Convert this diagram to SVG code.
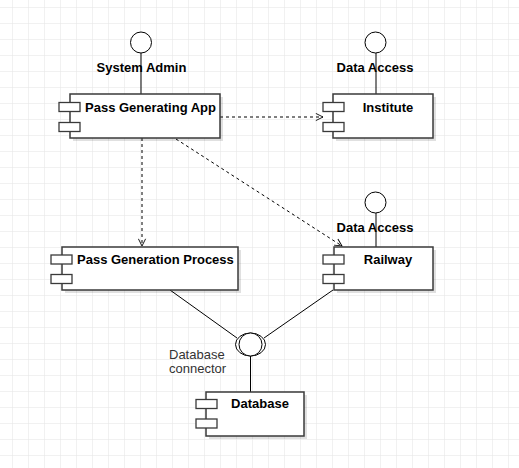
<svg xmlns="http://www.w3.org/2000/svg" width="519" height="468" viewBox="0 0 519 468">
<defs>
<pattern id="grid" x="12" y="7" width="16" height="16" patternUnits="userSpaceOnUse">
<path d="M0,0 H16 M0,0 V16" fill="none" stroke="#e3e3e3" stroke-width="1"/>
</pattern>
<marker id="open" viewBox="0 0 10 10" refX="9" refY="5" markerWidth="9" markerHeight="9" orient="auto" markerUnits="userSpaceOnUse">
<path d="M1,1 L9,5 L1,9" fill="none" stroke="#000" stroke-width="1"/>
</marker>
</defs>
<style>
.box{fill:#fff;stroke:#3a3a3a;stroke-width:1.5}
.sh{fill:#000;opacity:0.12}
.port{fill:#fff;stroke:#3a3a3a;stroke-width:1.3}
.ball{fill:#fff;stroke:#000;stroke-width:1}
.ln{fill:none;stroke:#000;stroke-width:1}
.dash{fill:none;stroke:#000;stroke-width:1;stroke-dasharray:3 3}
.lbl{font-family:"Liberation Sans",Arial,sans-serif;font-size:13px;font-weight:bold;fill:#000}
.txt{font-family:"Liberation Sans",Arial,sans-serif;font-size:13px;fill:#333}
</style>
<rect x="0" y="0" width="519" height="468" fill="#fff"/>
<rect x="0" y="0" width="519" height="468" fill="url(#grid)"/>

<g id="connectors">
<line class="dash" x1="142" y1="138" x2="142" y2="246" marker-end="url(#open)"/>
<line class="dash" x1="220" y1="117" x2="323" y2="117" marker-end="url(#open)"/>
<line class="dash" x1="176" y1="139" x2="342" y2="246" marker-end="url(#open)"/>
<line class="ln" x1="170" y1="290" x2="237" y2="338"/>
<line class="ln" x1="333" y1="290" x2="264" y2="338"/>
<line class="ln" x1="250.5" y1="356" x2="250.5" y2="392"/>
</g>

<g id="pass-generating-app">
<line class="ln" x1="141" y1="53" x2="141" y2="94"/>
<circle class="ball" cx="141" cy="42.5" r="10.5"/>
<text class="lbl" x="141.5" y="72" text-anchor="middle">System Admin</text>
<rect class="sh" x="73" y="97" width="150" height="44"/>
<rect class="box" x="70" y="94" width="150" height="44"/>
<rect class="port" x="59" y="102.5" width="21" height="9"/>
<rect class="port" x="59" y="122.5" width="21" height="9"/>
<text class="lbl" x="85" y="112">Pass Generating App</text>
</g>

<g id="institute">
<line class="ln" x1="376" y1="53" x2="376" y2="94"/>
<circle class="ball" cx="375.5" cy="42.5" r="10.5"/>
<text class="lbl" x="375" y="72" text-anchor="middle">Data Access</text>
<rect class="sh" x="336" y="97" width="100" height="44"/>
<rect class="box" x="333" y="94" width="100" height="44"/>
<rect class="port" x="323" y="102.5" width="21" height="9"/>
<rect class="port" x="323" y="122.5" width="21" height="9"/>
<text class="lbl" x="388" y="112" text-anchor="middle">Institute</text>
</g>

<g id="pass-generation-process">
<rect class="sh" x="65" y="250" width="176" height="43"/>
<rect class="box" x="62" y="247" width="176" height="43"/>
<rect class="port" x="51" y="255" width="21" height="9"/>
<rect class="port" x="51" y="274.5" width="21" height="9"/>
<text class="lbl" x="77" y="263.5">Pass Generation Process</text>
</g>

<g id="railway">
<line class="ln" x1="376" y1="213" x2="376" y2="247"/>
<circle class="ball" cx="375.5" cy="202.5" r="10.5"/>
<text class="lbl" x="375" y="231.5" text-anchor="middle">Data Access</text>
<rect class="sh" x="337" y="250" width="99" height="43"/>
<rect class="box" x="334" y="247" width="99" height="43"/>
<rect class="port" x="323" y="255" width="21" height="9"/>
<rect class="port" x="323" y="274.5" width="21" height="9"/>
<text class="lbl" x="388" y="263.5" text-anchor="middle">Railway</text>
</g>

<g id="database-connector">
<path class="ln" d="M250.5,333 A15 11.5 0 0 0 250.5,356"/>
<path class="ln" d="M250.5,333 A15 11.5 0 0 1 250.5,356"/>
<circle class="ball" cx="250.5" cy="344.5" r="11.5"/>
<text class="txt" x="169" y="359">Database</text>
<text class="txt" x="169" y="373">connector</text>
</g>

<g id="database">
<rect class="sh" x="209" y="395" width="98" height="44"/>
<rect class="box" x="206" y="392" width="98" height="44"/>
<rect class="port" x="196" y="399.5" width="21" height="9"/>
<rect class="port" x="196" y="419" width="21" height="9"/>
<text class="lbl" x="260" y="408" text-anchor="middle">Database</text>
</g>
</svg>
